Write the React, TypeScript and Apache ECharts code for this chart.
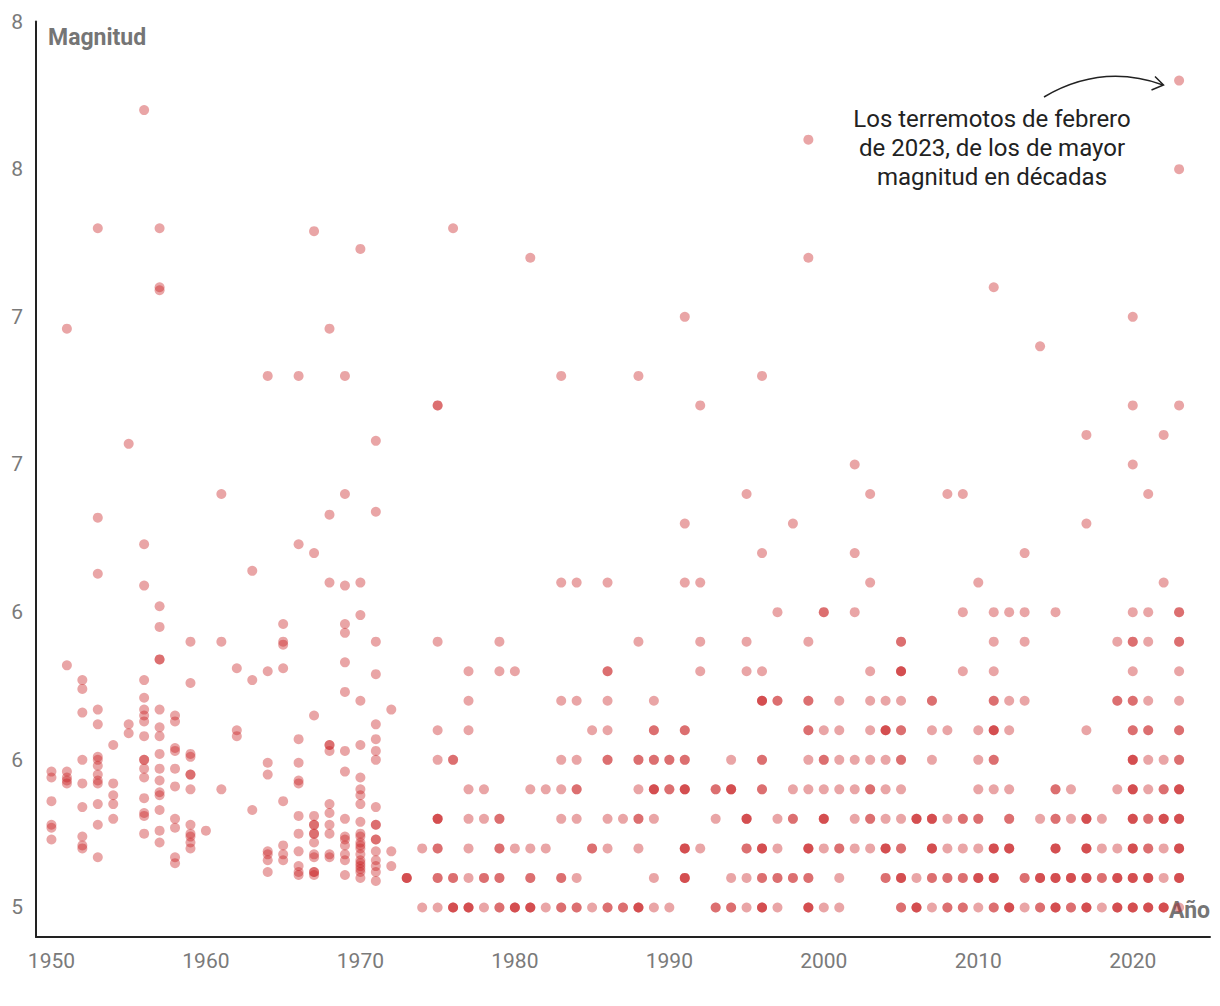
import React, { useEffect, useRef } from "react";
import * as echarts from "echarts";

type Row = [number, number[]];

// Earthquakes (year, magnitudes) — repeated values are overlapping quakes
const quakes1950s: Row[] = [
  [1950, [5.46, 5.44, 5.36, 5.28, 5.27, 5.23]],
  [1951, [6.96, 5.82, 5.46, 5.44, 5.43, 5.42]],
  [1952, [5.77, 5.74, 5.66, 5.5, 5.42, 5.34, 5.24, 5.21, 5.2]],
  [1953, [7.3, 6.32, 6.13, 5.67, 5.62, 5.51, 5.5, 5.48, 5.45, 5.43, 5.42, 5.35, 5.28, 5.17]],
  [1954, [5.55, 5.42, 5.38, 5.35, 5.3]],
  [1955, [6.57, 5.62, 5.59]],
  [1956, [7.7, 6.23, 6.09, 5.77, 5.71, 5.67, 5.65, 5.63, 5.58, 5.5, 5.5, 5.47, 5.44, 5.37, 5.32, 5.31, 5.25]],
  [1957, [7.3, 7.1, 7.09, 6.02, 5.95, 5.84, 5.84, 5.67, 5.61, 5.58, 5.52, 5.47, 5.43, 5.39, 5.38, 5.33, 5.26, 5.22]],
  [1958, [5.65, 5.63, 5.54, 5.53, 5.47, 5.41, 5.3, 5.27, 5.17, 5.15]],
  [1959, [5.9, 5.76, 5.52, 5.51, 5.45, 5.45, 5.4, 5.28, 5.25, 5.24, 5.22, 5.2]],
];

const quakes1960s: Row[] = [
  [1960, [5.26]],
  [1961, [6.4, 5.9, 5.4]],
  [1962, [5.81, 5.6, 5.58]],
  [1963, [6.14, 5.77, 5.33]],
  [1964, [6.8, 5.8, 5.49, 5.45, 5.19, 5.18, 5.16, 5.12]],
  [1965, [5.96, 5.9, 5.89, 5.81, 5.36, 5.21, 5.18, 5.16]],
  [1966, [6.8, 6.23, 5.57, 5.49, 5.43, 5.42, 5.31, 5.25, 5.19, 5.14, 5.12, 5.11]],
  [1967, [7.29, 6.2, 5.65, 5.31, 5.28, 5.28, 5.25, 5.25, 5.22, 5.18, 5.17, 5.12, 5.12, 5.11]],
  [1968, [6.96, 6.33, 6.1, 5.55, 5.55, 5.53, 5.35, 5.32, 5.28, 5.25, 5.18, 5.17]],
  [1969, [6.8, 6.4, 6.09, 5.96, 5.93, 5.83, 5.73, 5.53, 5.46, 5.3, 5.24, 5.23, 5.21, 5.18, 5.16, 5.11]],
];

const quakes1970s: Row[] = [
  [1970, [7.23, 6.1, 5.99, 5.7, 5.55, 5.44, 5.4, 5.38, 5.35, 5.29, 5.25, 5.24, 5.22, 5.21, 5.2, 5.18, 5.16, 5.15, 5.14, 5.13, 5.12, 5.1]],
  [1971, [6.58, 6.34, 5.9, 5.79, 5.62, 5.57, 5.53, 5.5, 5.34, 5.28, 5.28, 5.23, 5.23, 5.19, 5.16, 5.14, 5.12, 5.09]],
  [1972, [5.67, 5.19, 5.14]],
  [1973, [5.1, 5.1, 5.1]],
  [1974, [5.0, 5.2]],
  [1975, [5.0, 5.1, 5.1, 5.2, 5.2, 5.3, 5.3, 5.3, 5.5, 5.6, 5.9, 6.7, 6.7]],
  [1976, [5.0, 5.0, 5.0, 5.1, 5.1, 5.5, 5.5, 7.3]],
  [1977, [5.0, 5.0, 5.0, 5.1, 5.2, 5.3, 5.4, 5.6, 5.7, 5.8]],
  [1978, [5.0, 5.1, 5.1, 5.3, 5.4]],
  [1979, [5.0, 5.0, 5.1, 5.1, 5.2, 5.2, 5.3, 5.3, 5.8, 5.9]],
];

const quakes1980s: Row[] = [
  [1980, [5.0, 5.0, 5.0, 5.2, 5.8]],
  [1981, [5.0, 5.0, 5.0, 5.1, 5.1, 5.2, 5.4, 7.2]],
  [1982, [5.0, 5.2, 5.4]],
  [1983, [5.0, 5.0, 5.1, 5.1, 5.3, 5.4, 5.5, 5.7, 6.1, 6.8]],
  [1984, [5.0, 5.0, 5.1, 5.3, 5.4, 5.4, 5.5, 5.7, 6.1]],
  [1985, [5.0, 5.2, 5.2, 5.6]],
  [1986, [5.0, 5.0, 5.2, 5.3, 5.5, 5.5, 5.6, 5.7, 5.8, 5.8, 6.1]],
  [1987, [5.0, 5.0, 5.3]],
  [1988, [5.0, 5.0, 5.0, 5.2, 5.3, 5.3, 5.4, 5.5, 5.5, 5.9, 6.8]],
  [1989, [5.0, 5.1, 5.3, 5.4, 5.4, 5.4, 5.5, 5.5, 5.6, 5.6, 5.7]],
];

const quakes1990s: Row[] = [
  [1990, [5.0, 5.4, 5.4, 5.5, 5.5]],
  [1991, [5.1, 5.1, 5.1, 5.2, 5.2, 5.2, 5.4, 5.4, 5.4, 5.5, 5.5, 5.6, 5.6, 6.1, 6.3, 7.0]],
  [1992, [5.2, 5.8, 5.9, 6.1, 6.7]],
  [1993, [5.0, 5.0, 5.3, 5.4, 5.4]],
  [1994, [5.0, 5.0, 5.1, 5.4, 5.4, 5.4, 5.5]],
  [1995, [5.0, 5.1, 5.2, 5.2, 5.3, 5.3, 5.3, 5.8, 5.9, 6.4]],
  [1996, [5.0, 5.0, 5.0, 5.1, 5.1, 5.2, 5.2, 5.2, 5.4, 5.4, 5.5, 5.5, 5.7, 5.7, 5.7, 5.8, 6.2, 6.8]],
  [1997, [5.0, 5.1, 5.1, 5.2, 5.3, 5.7, 5.7, 6.0]],
  [1998, [5.1, 5.1, 5.3, 5.3, 5.4, 6.3]],
  [1999, [5.0, 5.0, 5.0, 5.1, 5.1, 5.2, 5.2, 5.2, 5.4, 5.5, 5.6, 5.6, 5.7, 5.7, 5.9, 7.2, 7.6]],
];

const quakes2000s: Row[] = [
  [2000, [5.0, 5.2, 5.3, 5.3, 5.3, 5.4, 5.5, 5.5, 5.6, 6.0, 6.0]],
  [2001, [5.0, 5.1, 5.2, 5.2, 5.4, 5.5, 5.6, 5.7]],
  [2002, [5.2, 5.3, 5.4, 5.5, 6.0, 6.2, 6.5]],
  [2003, [5.2, 5.3, 5.3, 5.4, 5.4, 5.5, 5.6, 5.7, 5.8, 6.1, 6.4]],
  [2004, [5.1, 5.1, 5.2, 5.2, 5.2, 5.3, 5.4, 5.5, 5.6, 5.6, 5.6, 5.7]],
  [2005, [5.0, 5.0, 5.1, 5.1, 5.1, 5.2, 5.2, 5.3, 5.4, 5.5, 5.5, 5.6, 5.6, 5.7, 5.8, 5.8, 5.8, 5.9, 5.9]],
  [2006, [5.0, 5.0, 5.0, 5.1, 5.3, 5.3, 5.3]],
  [2007, [5.0, 5.1, 5.1, 5.2, 5.2, 5.2, 5.3, 5.3, 5.3, 5.5, 5.6, 5.7, 5.7]],
  [2008, [5.0, 5.0, 5.1, 5.1, 5.2, 5.3, 5.6, 6.4]],
  [2009, [5.0, 5.0, 5.1, 5.1, 5.2, 5.3, 5.3, 5.8, 6.0, 6.4]],
];

const quakes2010s: Row[] = [
  [2010, [5.0, 5.1, 5.1, 5.1, 5.2, 5.3, 5.3, 5.4, 5.5, 5.6, 6.1]],
  [2011, [5.0, 5.0, 5.1, 5.1, 5.1, 5.2, 5.2, 5.2, 5.4, 5.5, 5.5, 5.6, 5.6, 5.6, 5.7, 5.7, 5.8, 5.9, 6.0, 7.1]],
  [2012, [5.0, 5.0, 5.0, 5.2, 5.2, 5.2, 5.3, 5.3, 5.4, 5.6, 5.7, 6.0]],
  [2013, [5.0, 5.1, 5.1, 5.7, 5.9, 6.0, 6.2]],
  [2014, [5.0, 5.0, 5.1, 5.1, 5.1, 5.3, 6.9]],
  [2015, [5.0, 5.0, 5.0, 5.1, 5.1, 5.1, 5.2, 5.2, 5.2, 5.3, 5.3, 5.4, 5.4, 6.0]],
  [2016, [5.0, 5.0, 5.1, 5.1, 5.1, 5.3, 5.4]],
  [2017, [5.0, 5.0, 5.0, 5.1, 5.1, 5.1, 5.2, 5.2, 5.2, 5.3, 5.3, 5.3, 5.6, 6.3, 6.6]],
  [2018, [5.0, 5.1, 5.1, 5.2, 5.3]],
  [2019, [5.0, 5.0, 5.0, 5.1, 5.1, 5.1, 5.2, 5.4, 5.7, 5.7, 5.9]],
];

const quakes2020s: Row[] = [
  [2020, [5.0, 5.0, 5.0, 5.1, 5.1, 5.1, 5.2, 5.2, 5.2, 5.3, 5.3, 5.3, 5.4, 5.4, 5.4, 5.5, 5.5, 5.5, 5.6, 5.6, 5.7, 5.7, 5.8, 5.9, 5.9, 6.0, 6.5, 6.7, 7.0]],
  [2021, [5.0, 5.0, 5.0, 5.1, 5.1, 5.1, 5.2, 5.2, 5.3, 5.3, 5.4, 5.5, 5.6, 5.6, 5.7, 5.9, 6.0, 6.4]],
  [2022, [5.0, 5.0, 5.0, 5.1, 5.2, 5.3, 5.3, 5.3, 5.4, 5.4, 5.5, 6.1, 6.6]],
  [2023, [5.0, 5.1, 5.1, 5.1, 5.2, 5.2, 5.2, 5.3, 5.3, 5.3, 5.4, 5.4, 5.4, 5.5, 5.5, 5.6, 5.6, 5.7, 5.8, 5.9, 5.9, 6.0, 6.0, 6.7, 7.5, 7.8]],
];

const xTicks = [1950, 1960, 1970, 1980, 1990, 2000, 2010, 2020];
const yTicks = [5, 5.5, 6, 6.5, 7, 7.5, 8];
const annotationText = "Los terremotos de febrero\nde 2023, de los de mayor\nmagnitud en décadas";

const FONT = "Roboto, 'Noto Sans', sans-serif";

export default function App() {
  const ref = useRef<HTMLDivElement>(null);

  useEffect(() => {
    if (!ref.current) return;
    const chart = echarts.init(ref.current, null, { renderer: "svg" });
    const all = [
      ...quakes1950s,
      ...quakes1960s,
      ...quakes1970s,
      ...quakes1980s,
      ...quakes1990s,
      ...quakes2000s,
      ...quakes2010s,
      ...quakes2020s,
    ];
    const points = all.flatMap(([year, mags]) => mags.map((m) => [year, m]));

    chart.setOption({
      animation: false,
      backgroundColor: "#ffffff",
      grid: {
        left: 36,
        right: 10,
        top: 21.5,
        bottom: 69,
        containLabel: false,
        outerBoundsMode: "none",
      },
      xAxis: {
        type: "value",
        min: 1949,
        max: 2025,
        axisLine: { show: true, onZero: false, lineStyle: { color: "#222", width: 2 } },
        axisTick: { show: false },
        splitLine: { show: false },
        axisLabel: {
          customValues: xTicks,
          color: "#7a7a7a",
          fontSize: 21,
          fontFamily: FONT,
          margin: 13,
          formatter: (v: number) => String(v),
        },
      },
      yAxis: {
        type: "value",
        min: 4.9,
        max: 8,
        axisLine: { show: true, onZero: false, lineStyle: { color: "#222", width: 2 } },
        axisTick: { show: false },
        splitLine: { show: false },
        axisLabel: {
          customValues: yTicks,
          color: "#7a7a7a",
          fontSize: 21,
          fontFamily: FONT,
          margin: 13,
          formatter: (v: number) => String(Math.round(v)),
        },
      },
      series: [
        {
          type: "scatter",
          data: points,
          symbolSize: 10,
          itemStyle: { color: "rgba(200, 30, 32, 0.5)" },
          silent: true,
        },
      ],
      graphic: [
        {
          type: "text",
          left: 48,
          top: 26,
          style: {
            text: "Magnitud",
            fill: "#757575",
            font: `bold 23px ${FONT}`,
          },
        },
        {
          type: "text",
          right: 10,
          top: 899,
          style: {
            text: "Año",
            fill: "#757575",
            font: `bold 23px ${FONT}`,
          },
        },
        {
          type: "text",
          x: 992,
          y: 104,
          style: {
            text: annotationText,
            fill: "#222",
            fontSize: 24,
            fontFamily: FONT,
            lineHeight: 29,
            align: "center",
            verticalAlign: "top",
          },
        },
        {
          type: "bezierCurve",
          shape: { x1: 1044, y1: 97, x2: 1163, y2: 85, cpx1: 1102, cpy1: 63 },
          style: { stroke: "#222", lineWidth: 1.5, fill: null },
        },
        {
          type: "polyline",
          shape: { points: [[1155, 76.5], [1163.5, 85], [1151.5, 90]] },
          style: { stroke: "#222", lineWidth: 1.5, fill: null },
        },
      ],
    });

    return () => chart.dispose();
  }, []);

  return (
    <div
      ref={ref}
      style={{ position: "fixed", left: 0, top: 0, width: 1220, height: 1006, background: "#fff" }}
    />
  );
}
